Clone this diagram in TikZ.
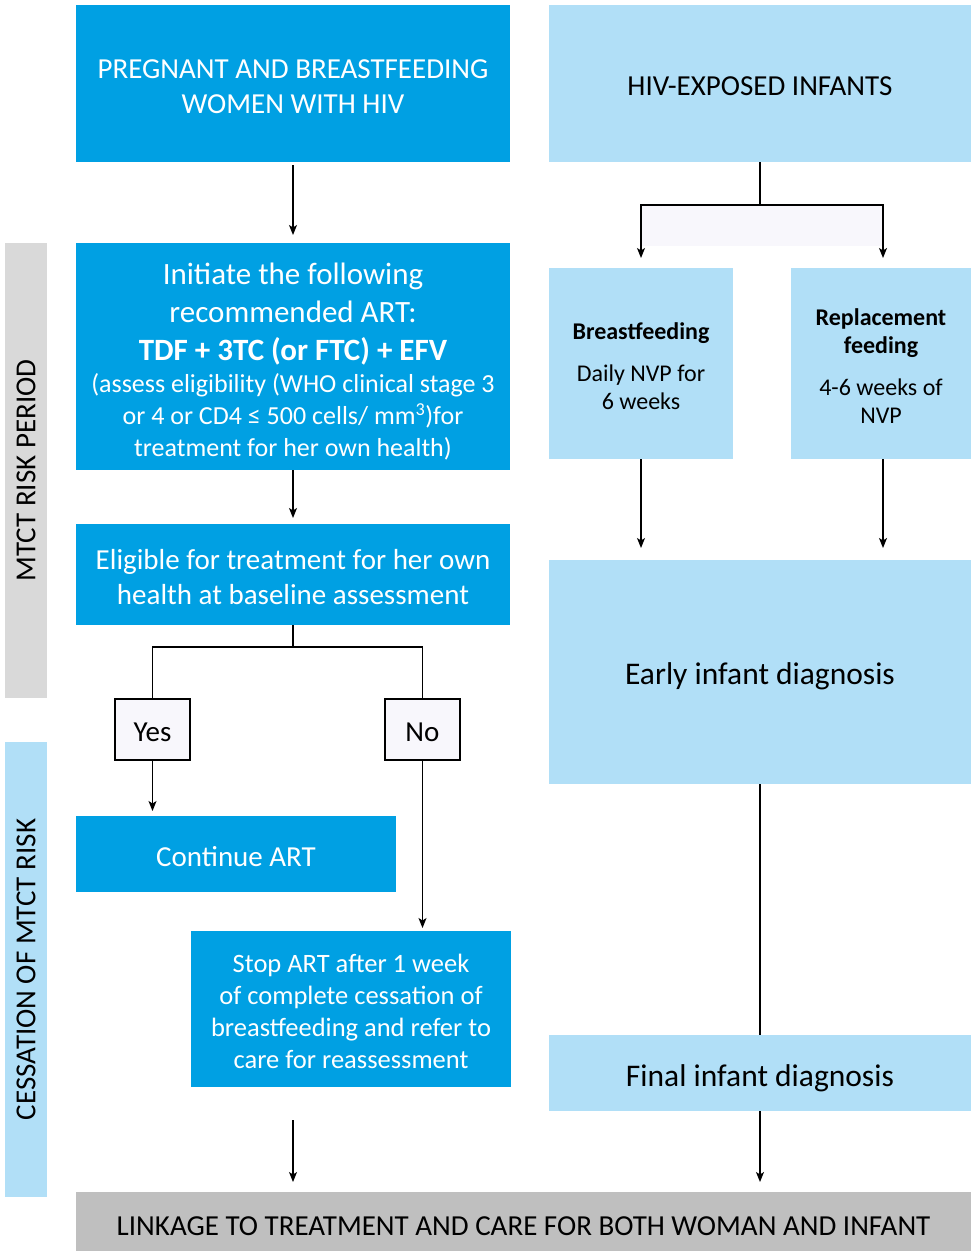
\documentclass[tikz,border=0pt]{standalone}
\usepackage{fontspec}
\setmainfont{Carlito}
\usetikzlibrary{arrows.meta}

\definecolor{whoblue}{RGB}{0,160,227}
\definecolor{paleblue}{RGB}{177,223,247}
\definecolor{bargray}{RGB}{217,217,217}
\definecolor{linkgray}{RGB}{191,191,191}
\definecolor{lavender}{RGB}{248,247,252}

% invisible strut that pushes the first line of a box down a little
\newcommand{\lift}[1]{\rule{0pt}{#1}}

\tikzset{
  box/.style={rectangle, inner sep=0pt, outer sep=0pt, align=center},
  darkbox/.style={box, fill=whoblue, text=white},
  lightbox/.style={box, fill=paleblue, text=black},
  sidebar/.style={box, rotate=90, minimum width=455pt, minimum height=42pt,
    font=\fontsize{29}{34}\selectfont},
  choice/.style={box, draw=black, line width=1.2pt, fill=lavender,
    minimum width=75pt, minimum height=61pt, font=\fontsize{29}{34}\selectfont},
  link/.style={line width=1.3pt},
  arr/.style={link, -{Stealth[length=10pt,width=8pt,inset=2.5pt]}},
}

\begin{document}
\begin{tikzpicture}[x=1pt,y=-1pt]
  \useasboundingbox (0,0) rectangle (971,1251);

  % mother side
  \node[darkbox, minimum width=434pt, minimum height=157pt,
    font=\fontsize{29}{35}\selectfont] (women) at (293,83.5)
    {\lift{0.89em}PREGNANT AND BREASTFEEDING\\WOMEN WITH HIV};

  \node[darkbox, minimum width=434pt, minimum height=227pt,
    font=\fontsize{31}{38}\selectfont] (art) at (293,356.5)
    {\lift{0.99em}Initiate the following\\recommended ART:\\\textbf{TDF + 3TC (or FTC) + EFV}\\[-6pt]
     {\fontsize{26}{32}\selectfont (assess eligibility (WHO clinical stage 3}\\[-6pt]
     {\fontsize{26}{32}\selectfont or 4 or CD4 ≤ 500 cells/ mm\textsuperscript{3})for}\\[-6pt]
     {\fontsize{26}{32}\selectfont treatment for her own health)}};

  \node[darkbox, minimum width=434pt, minimum height=101pt,
    font=\fontsize{29}{35}\selectfont] (eligible) at (293,574.5)
    {\lift{0.9em}Eligible for treatment for her own\\health at baseline assessment};

  \node[choice] (yes) at (152.5,729.5) {\lift{0.85em}Yes};
  \node[choice] (no) at (422.5,729.5) {\lift{0.85em}No};

  \node[darkbox, minimum width=320pt, minimum height=76pt,
    font=\fontsize{29}{34}\selectfont] (cont) at (236,854) {\lift{0.85em}Continue ART};

  \node[darkbox, minimum width=320pt, minimum height=156pt,
    font=\fontsize{26.5}{32}\selectfont] (stop) at (351,1009)
    {\lift{0.88em}Stop ART after 1 week\\of complete cessation of\\breastfeeding and refer to\\care for reassessment};

  % infant side
  \node[lightbox, minimum width=422pt, minimum height=157pt,
    font=\fontsize{29}{35}\selectfont] (infants) at (760,83.5)
    {\lift{0.85em}HIV-EXPOSED INFANTS};

  \node[lightbox, minimum width=184pt, minimum height=191pt,
    font=\fontsize{24}{28}\selectfont] (breast) at (641,363.5)
    {\lift{0.9em}\textbf{Breastfeeding}\\[14pt]Daily NVP for\\6 weeks};

  \node[lightbox, minimum width=180pt, minimum height=191pt,
    font=\fontsize{24}{28}\selectfont] (replace) at (881,363.5)
    {\lift{0.9em}\textbf{Replacement}\\\textbf{feeding}\\[14pt]4-6 weeks of\\NVP};

  \node[lightbox, minimum width=422pt, minimum height=224pt,
    font=\fontsize{31.5}{36}\selectfont] (eid) at (760,672)
    {\lift{0.98em}Early infant diagnosis};

  \node[lightbox, minimum width=422pt, minimum height=76pt,
    font=\fontsize{31.5}{36}\selectfont] (fid) at (760,1073)
    {\lift{1.05em}Final infant diagnosis};

  % bottom and side bars
  \node[box, fill=linkgray, minimum width=895pt, minimum height=59pt,
    font=\fontsize{29}{34}\selectfont] (linkage) at (523.5,1221.5)
    {\lift{0.99em}LINKAGE TO TREATMENT AND CARE FOR BOTH WOMAN AND INFANT};

  \node[sidebar, fill=bargray] (riskbar) at (26,470.5) {MTCT RISK PERIOD};
  \node[sidebar, fill=paleblue] (cessbar) at (26,969.5) {CESSATION OF MTCT RISK};

  % connectors, mother
  \draw[arr, shorten <=3pt, shorten >=8pt] (women.south) -- (art.north);
  \draw[arr, shorten >=6pt] (art.south) -- (eligible.north);

  \draw[link] (eligible.south) -- ++(0,22) coordinate (split);
  \draw[link] (yes.north) |- (split) -| (no.north);

  \draw[arr, shorten >=5pt] (yes.south) -- (yes.south |- cont.north);
  \draw[arr, shorten >=3pt] (no.south) -- (no.south |- stop.north);

  \draw[arr, shorten >=10pt] (art.south |- stop.south) ++(0,33)
    -- (art.south |- linkage.north);

  % connectors, infant
  \fill[lavender] (641,205) rectangle (883,246);
  \draw[link] (infants.south) -- ++(0,43) coordinate (fork);
  \draw[arr, shorten >=10pt] (fork) -| (breast.north);
  \draw[arr, shorten >=10pt] (fork) -| (replace.north -| 883,0);

  \draw[arr, shorten >=12pt] (breast.south) -- (breast.south |- eid.north);
  \draw[arr, shorten >=12pt] (replace.south -| 883,0) -- (883,560);

  \draw[link] (eid.south) -- (fid.north);
  \draw[arr, shorten >=10pt] (fid.south) -- (fid.south |- linkage.north);

\end{tikzpicture}
\end{document}
